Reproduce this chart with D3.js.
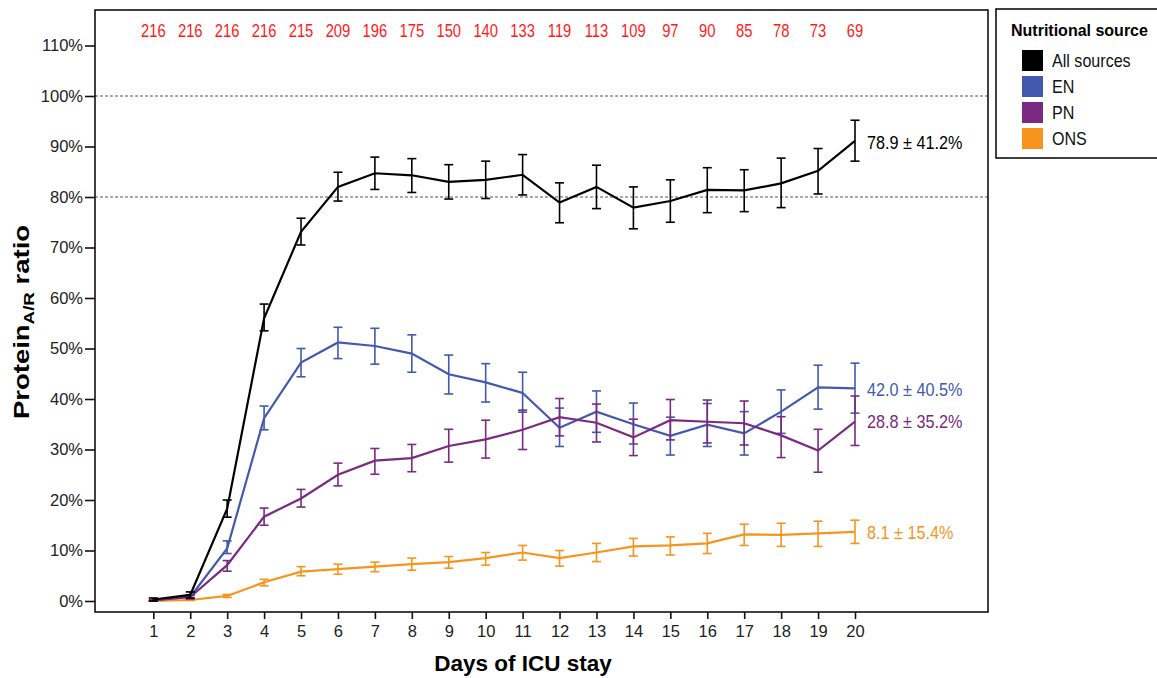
<!DOCTYPE html>
<html>
<head>
<meta charset="utf-8">
<script src="https://cdn.jsdelivr.net/npm/d3@7"></script>
<style>
  body { margin: 0; background: #fff; }
  text { font-family: "Liberation Sans", Arial, sans-serif; }
</style>
</head>
<body>
<div id="wrapper"></div>
<script>
// data (percent)
const days = [1, 2, 3, 4, 5, 6, 7, 8, 9, 10, 11, 12, 13, 14, 15, 16, 17, 18, 19, 20];
const counts = [216, 216, 216, 216, 215, 209, 196, 175, 150, 140, 133, 119, 113, 109, 97, 90, 85, 78, 73, 69];
const yTicks = [0, 10, 20, 30, 40, 50, 60, 70, 80, 90, 100, 110];

const allMean = [0.3, 1.2, 18.3, 56.0, 73.1, 82.0, 84.7, 84.3, 83.0, 83.4, 84.4, 78.9, 82.0, 77.9, 79.2, 81.4, 81.3, 82.7, 85.2, 91.1];
const allLo = [0.0, 0.6, 16.6, 53.5, 70.5, 79.2, 81.5, 80.9, 79.6, 79.7, 80.4, 74.9, 77.7, 73.7, 75.0, 76.9, 77.1, 77.9, 80.6, 87.1];
const allHi = [0.6, 1.8, 20.0, 58.8, 75.8, 84.9, 87.9, 87.6, 86.4, 87.1, 88.4, 82.8, 86.3, 82.0, 83.4, 85.8, 85.4, 87.7, 89.6, 95.2];

const enMean = [0.2, 0.8, 10.4, 36.2, 47.2, 51.2, 50.5, 49.0, 44.9, 43.3, 41.2, 34.3, 37.5, 35.0, 32.7, 34.9, 33.2, 37.5, 42.3, 42.1];
const enLo = [0.1, 0.5, 9.4, 33.9, 44.4, 48.0, 46.9, 45.3, 41.0, 39.4, 37.4, 30.6, 33.4, 31.1, 28.9, 30.6, 28.9, 33.2, 38.0, 37.2];
const enHi = [0.3, 1.1, 11.9, 38.6, 50.0, 54.2, 54.0, 52.7, 48.7, 47.0, 45.3, 38.2, 41.6, 39.2, 36.4, 39.1, 37.5, 41.8, 46.7, 47.1];

const pnMean = [0.1, 0.8, 7.1, 16.7, 20.3, 25.0, 27.8, 28.3, 30.7, 32.0, 33.9, 36.4, 35.3, 32.4, 35.8, 35.5, 35.2, 32.8, 29.8, 35.5];
const pnLo = [0.0, 0.4, 5.9, 15.0, 18.6, 22.8, 25.1, 25.6, 27.5, 28.3, 30.0, 32.7, 31.5, 28.8, 31.9, 31.3, 30.9, 28.4, 25.5, 30.8];
const pnHi = [0.2, 1.2, 8.0, 18.4, 22.1, 27.3, 30.2, 31.0, 34.0, 35.8, 37.8, 40.1, 39.0, 36.0, 39.9, 39.8, 39.6, 36.5, 34.0, 40.6];

const onsMean = [0.0, 0.2, 1.0, 3.7, 5.8, 6.3, 6.8, 7.3, 7.7, 8.5, 9.6, 8.5, 9.6, 10.8, 11.0, 11.4, 13.2, 13.1, 13.4, 13.7];
const onsLo = [0.0, 0.1, 0.7, 3.0, 5.0, 5.3, 5.8, 6.1, 6.5, 7.1, 8.1, 6.9, 7.8, 8.9, 9.1, 9.4, 11.0, 10.8, 10.8, 11.4];
const onsHi = [0.0, 0.3, 1.3, 4.3, 6.8, 7.3, 7.7, 8.5, 8.8, 9.6, 11.0, 10.0, 11.4, 12.4, 12.7, 13.4, 15.2, 15.4, 15.8, 16.0];

const seriesNames = ['All sources', 'EN', 'PN', 'ONS'];
const seriesColors = ['#000000', '#4259ad', '#7a2a80', '#f7941d'];
const endLabels = ['78.9 \u00b1 41.2%', '42.0 \u00b1 40.5%', '28.8 \u00b1 35.2%', '8.1 \u00b1 15.4%'];
const refLines = [80, 100];

function drawChart() {
    // 1. Dimensions
    const width = 1157, height = 678;
    const frame = { left: 95, right: 988, top: 10, bottom: 612 };

    const svg = d3.select('#wrapper')
        .append('svg')
        .attr('width', width)
        .attr('height', height);

    // 2. Scales
    const xScale = d3.scaleLinear()
        .domain([1, 20])
        .range([153.3, 855]);
    const yScale = d3.scaleLinear()
        .domain([0, 110])
        .range([601, 45.5]);

    // 3. Reference lines
    svg.selectAll('.ref')
        .data(refLines)
        .join('line')
        .attr('x1', frame.left)
        .attr('x2', frame.right)
        .attr('y1', d => yScale(d))
        .attr('y2', d => yScale(d))
        .attr('stroke', '#555')
        .attr('stroke-width', 1)
        .attr('stroke-dasharray', '3,2');

    // 4. Frame
    svg.append('rect')
        .attr('x', frame.left)
        .attr('y', frame.top)
        .attr('width', frame.right - frame.left)
        .attr('height', frame.bottom - frame.top)
        .attr('fill', 'none')
        .attr('stroke', '#111')
        .attr('stroke-width', 1.6);

    // 5. Axes
    const yAxis = svg.append('g')
        .attr('transform', `translate(${frame.left},0)`)
        .call(d3.axisLeft(yScale).tickValues(yTicks).tickFormat(d => d + '%').tickSize(10).tickPadding(2));
    yAxis.select('.domain').remove();
    yAxis.selectAll('line').attr('stroke', '#111').attr('stroke-width', 1.6);
    yAxis.selectAll('text').attr('font-size', 16.5).attr('fill', '#222')
        .style('font-family', '"Liberation Sans", Arial, sans-serif');

    const xAxis = svg.append('g')
        .attr('transform', `translate(0,${frame.bottom})`)
        .call(d3.axisBottom(xScale).tickValues(days).tickSize(7).tickPadding(6));
    xAxis.select('.domain').remove();
    xAxis.selectAll('line').attr('stroke', '#111').attr('stroke-width', 1.6);
    xAxis.selectAll('text').attr('font-size', 16.5).attr('fill', '#222')
        .style('font-family', '"Liberation Sans", Arial, sans-serif');

    // axis titles
    svg.append('text')
        .attr('x', 523)
        .attr('y', 671)
        .attr('text-anchor', 'middle')
        .attr('font-size', 22.5)
        .attr('font-weight', 'bold')
        .text('Days of ICU stay');

    // the y title is drawn longer than its font, as in the picture
    const yTitle = svg.append('text')
        .attr('transform', 'translate(29,322) rotate(-90) scale(1.25,1)')
        .attr('text-anchor', 'middle')
        .attr('font-size', 22)
        .attr('font-weight', 'bold');
    yTitle.append('tspan').text('Protein');
    yTitle.append('tspan').attr('font-size', 15).attr('dy', 5).text('A/R');
    yTitle.append('tspan').attr('dy', -5).text(' ratio');

    // 6. Counts on top (narrow type)
    svg.selectAll('.count')
        .data(counts)
        .join('text')
        .attr('transform', (d, i) => `translate(${xScale(days[i])},37) scale(0.82,1)`)
        .attr('text-anchor', 'middle')
        .attr('font-size', 18)
        .attr('fill', '#ff1a1a')
        .text(d => d);

    // 7. Series with error bars
    const series = [
        { mean: onsMean, lo: onsLo, hi: onsHi, k: 3 },
        { mean: enMean, lo: enLo, hi: enHi, k: 1 },
        { mean: pnMean, lo: pnLo, hi: pnHi, k: 2 },
        { mean: allMean, lo: allLo, hi: allHi, k: 0 }
    ];
    const lineDrawer = d3.line()
        .x((d, i) => xScale(days[i]))
        .y(d => yScale(d));
    const cap = 4.5;

    series.forEach(s => {
        const color = seriesColors[s.k];
        const g = svg.append('g');
        const bars = g.selectAll('g')
            .data(days)
            .join('g')
            .attr('stroke', color)
            .attr('stroke-width', 1.6);
        bars.append('line')
            .attr('x1', d => xScale(d)).attr('x2', d => xScale(d))
            .attr('y1', (d, i) => yScale(s.lo[i])).attr('y2', (d, i) => yScale(s.hi[i]));
        bars.append('line')
            .attr('x1', d => xScale(d) - cap).attr('x2', d => xScale(d) + cap)
            .attr('y1', (d, i) => yScale(s.lo[i])).attr('y2', (d, i) => yScale(s.lo[i]));
        bars.append('line')
            .attr('x1', d => xScale(d) - cap).attr('x2', d => xScale(d) + cap)
            .attr('y1', (d, i) => yScale(s.hi[i])).attr('y2', (d, i) => yScale(s.hi[i]));
        g.append('path')
            .attr('d', lineDrawer(s.mean))
            .attr('fill', 'none')
            .attr('stroke', color)
            .attr('stroke-width', 2.2);
    });

    // 8. End labels
    const labelY = [90.8, enMean[19] - 0.3, pnMean[19], onsMean[19] - 0.2];
    endLabels.forEach((t, k) => {
        svg.append('text')
            .attr('transform', `translate(${xScale(20) + 12},${yScale(labelY[k])}) scale(0.9,1)`)
            .attr('dy', '0.36em')
            .attr('font-size', 18)
            .attr('fill', seriesColors[k])
            .text(t);
    });

    // 9. Legend
    const legend = svg.append('g');
    legend.append('rect')
        .attr('x', 996).attr('y', 9)
        .attr('width', 170).attr('height', 149)
        .attr('fill', '#fff')
        .attr('stroke', '#111')
        .attr('stroke-width', 1.6);
    legend.append('text')
        .attr('x', 1011).attr('y', 36)
        .attr('font-size', 16).attr('font-weight', 'bold')
        .text('Nutritional source');
    const rows = legend.selectAll('.row')
        .data(seriesNames)
        .join('g')
        .attr('transform', (d, i) => `translate(1022,${50 + i * 26})`);
    rows.append('rect')
        .attr('width', 21).attr('height', 21)
        .attr('fill', (d, i) => seriesColors[i]);
    rows.append('text')
        .attr('transform', 'translate(30,11) scale(0.92,1)')
        .attr('dy', '0.36em')
        .attr('font-size', 17.5)
        .attr('fill', '#111')
        .text(d => d);
}

drawChart();
</script>
</body>
</html>
